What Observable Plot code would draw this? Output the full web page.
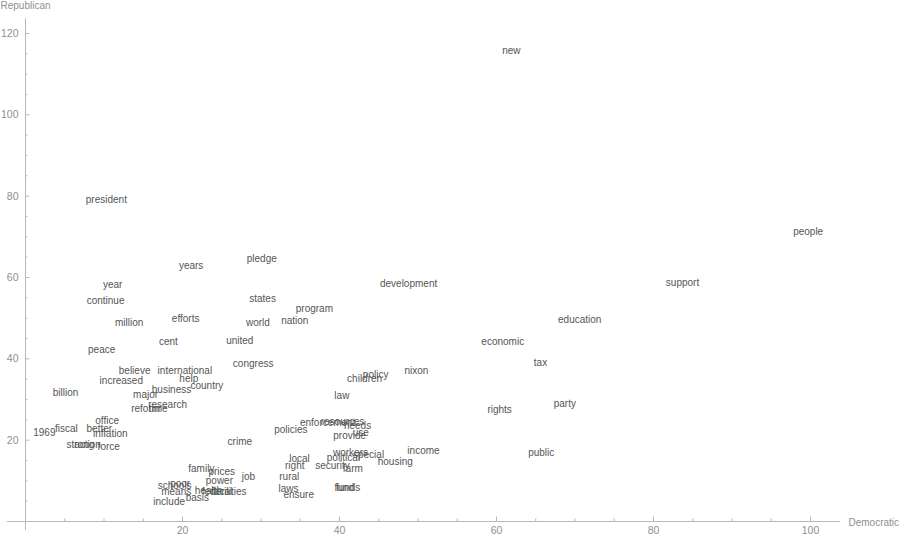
<!DOCTYPE html>
<html>
<head>
<meta charset="utf-8">
<script src="https://cdn.jsdelivr.net/npm/d3@7"></script>
<script src="https://cdn.jsdelivr.net/npm/@observablehq/plot@0.6"></script>
<style>
  html, body { margin: 0; padding: 0; background: #fff; }
  #chart svg { display: block; }
</style>
</head>
<body>
<div id="chart"></div>
<script>
const words = ["new","president","people","years","pledge","year","continue","states","development","support",
  "program","nation","million","efforts","world","education","economic","cent","united","peace",
  "congress","tax","believe","international","nixon","policy","children","increased","help","country",
  "business","billion","major","law","research","party","reform","time","rights","office",
  "enforcement","resources","needs","fiscal","better","policies","1969","inflation","use","provide",
  "crime","strong","action","force","income","public","workers","special","political","local",
  "housing","right","security","farm","family","prices","job","rural","power","poor",
  "schools","laws","fund","funds","means","health","federal","facilities","ensure","basis","include"];
const democratic = [61.9,10.3,99.7,21.1,30.1,11.1,10.2,30.2,48.8,83.7,
  36.8,34.3,13.2,20.4,29.6,70.6,60.8,18.2,27.3,9.7,
  29.0,65.6,13.9,20.3,49.8,44.6,43.2,12.2,20.8,23.1,
  18.6,5.1,15.3,40.3,18.1,68.7,15.3,16.9,60.4,10.4,
  38.5,40.4,42.3,5.2,9.4,33.8,2.4,10.8,42.7,41.3,
  27.3,7.0,7.9,10.6,50.7,65.7,41.4,43.7,40.5,34.9,
  47.1,34.3,39.1,41.7,22.4,25.0,28.4,33.6,24.7,19.7,
  19.0,33.5,40.6,41.1,19.2,23.3,24.4,25.9,34.8,21.9,18.3];
const republican = [115.7,79.1,71.3,62.9,64.6,58.2,54.3,54.8,58.5,58.7,
  52.3,49.4,48.9,49.9,48.9,49.6,44.2,44.2,44.5,42.3,
  38.8,39.1,37.1,37.1,37.1,36.1,35.1,34.6,35.1,33.4,
  32.4,31.7,31.2,31.0,28.7,29.0,27.8,27.8,27.5,24.8,
  24.3,24.6,23.6,22.9,22.9,22.6,21.9,21.6,21.9,21.1,
  19.7,18.9,18.9,18.4,17.4,17.0,17.0,16.5,15.7,15.5,
  14.7,13.8,13.8,13.0,13.0,12.3,11.1,11.1,10.1,9.3,
  8.8,8.1,8.4,8.4,7.4,7.6,7.4,7.4,6.6,5.9,4.9];

const majorTicks = [20, 40, 60, 80, 100];
const yMajorTicks = [20, 40, 60, 80, 100, 120];
const xMinor = d3.range(5, 105, 5).filter(d => d % 20 !== 0);
const yMinor = d3.range(5, 125, 5).filter(d => d % 20 !== 0);

const data = words.map((w, i) => ({word: w, dem: democratic[i], rep: republican[i]}));

const axisColor = "#b8b8b8";
const labelColor = "#8f8f8f";

const chart = Plot.plot({
  width: 900,
  height: 538,
  marginLeft: 25,
  marginRight: 90,
  marginTop: 33,
  marginBottom: 17,
  style: {fontFamily: "Liberation Sans, Arial, sans-serif", fontSize: "10px", background: "#fff"},
  x: {domain: [0, 100]},
  y: {domain: [0, 120]},
  marks: [
    Plot.ruleY([0], {x1: -2.3, x2: 103.8, stroke: axisColor, strokeWidth: 1}),
    Plot.ruleX([0], {y1: -2.2, y2: 123.6, stroke: axisColor, strokeWidth: 1}),
    Plot.ruleX(majorTicks, {y1: 0, y2: 1.1, stroke: axisColor}),
    Plot.ruleX(xMinor, {y1: 0, y2: 0.6, stroke: axisColor}),
    Plot.ruleY(yMajorTicks, {x1: 0, x2: 0.55, stroke: axisColor}),
    Plot.ruleY(yMinor, {x1: 0, x2: 0.3, stroke: axisColor}),
    Plot.axisX({ticks: majorTicks, tickSize: 0, tickPadding: 5, label: null, color: labelColor, fontSize: 10.5}),
    Plot.axisY({ticks: yMajorTicks, tickSize: 0, tickPadding: 7, label: null, color: labelColor, fontSize: 10.5}),
    Plot.text(["Republican"], {frameAnchor: "top-left", dx: -25, dy: -32, textAnchor: "start", lineAnchor: "top", fill: labelColor, fontSize: 10}),
    Plot.text(["Democratic"], {frameAnchor: "bottom-right", dx: 38, dy: 1, textAnchor: "start", lineAnchor: "middle", fill: labelColor, fontSize: 10}),
    Plot.text(data, {x: "dem", y: "rep", text: "word", fill: "#555", fontSize: 10})
  ]
});
document.getElementById("chart").appendChild(chart);
</script>
</body>
</html>
